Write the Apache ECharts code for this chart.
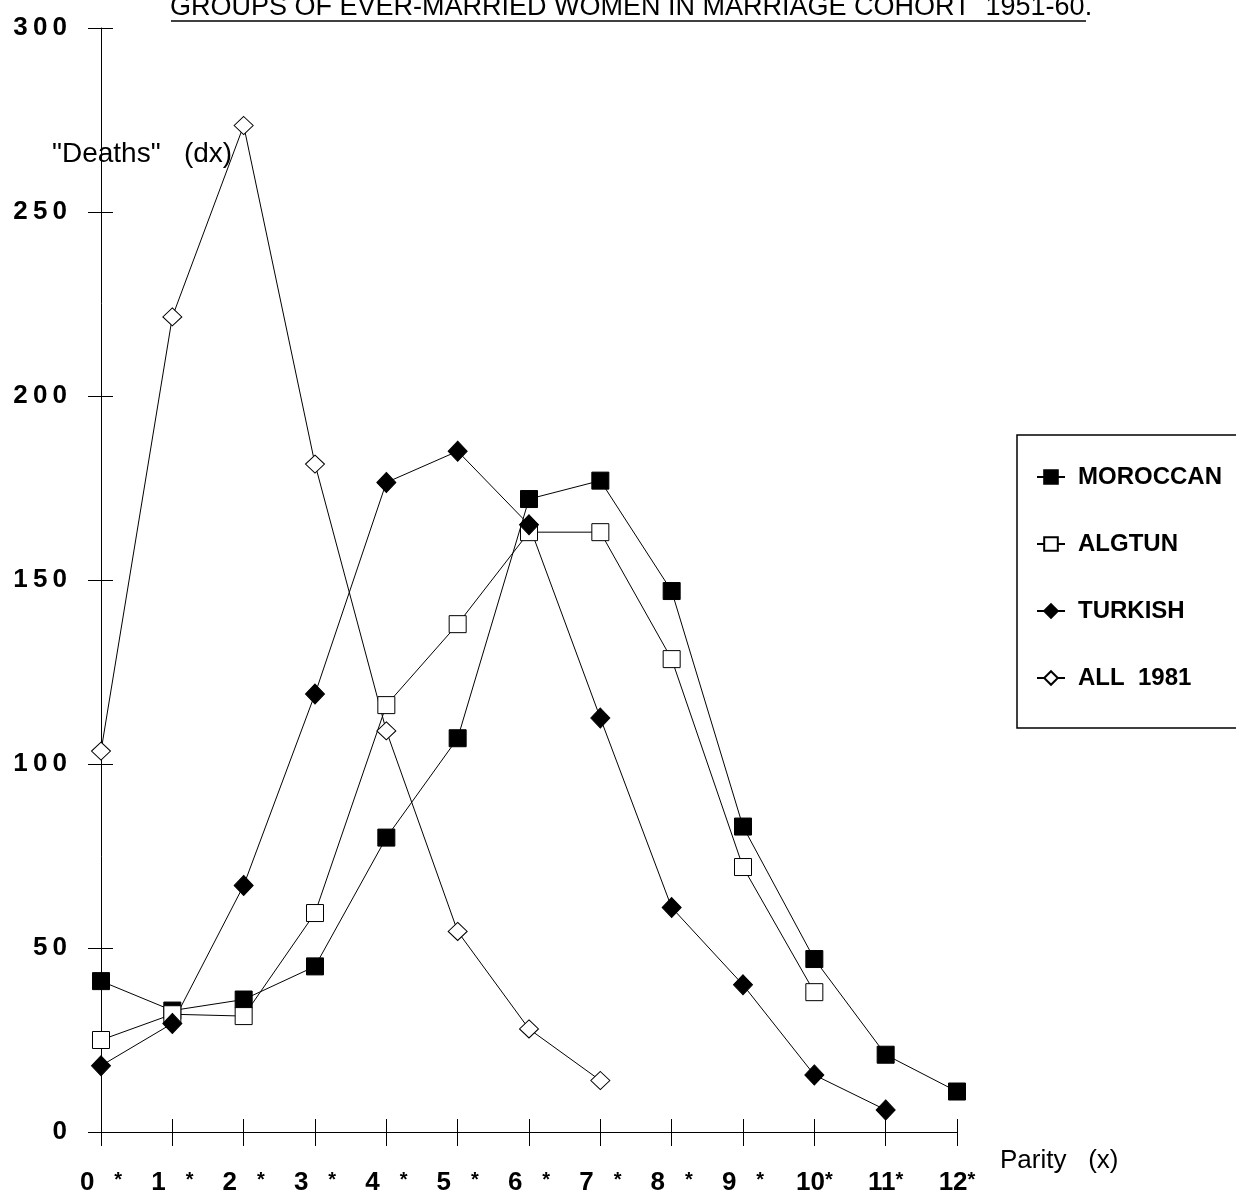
<!DOCTYPE html>
<html>
<head>
<meta charset="utf-8">
<script src="https://cdn.jsdelivr.net/npm/echarts@6/dist/echarts.min.js"></script>
<style>
html, body { margin: 0; padding: 0; background: #fff; }
#chart { width: 1236px; height: 1199px; }
</style>
</head>
<body>
<div id="chart"></div>
<script>
// parity x = 0..12
var parity = [0, 1, 2, 3, 4, 5, 6, 7, 8, 9, 10, 11, 12];
var xTickLabels = ['0', '1', '2', '3', '4', '5', '6', '7', '8', '9', '10', '11', '12'];
var yTickLabels = ['0', '50', '100', '150', '200', '250', '300'];

// "deaths" dx per group
var moroccan = [41, 33, 36, 45, 80, 107, 172, 177, 147, 83, 47, 21, 11];
var algtun   = [25, 32, 31.5, 59.5, 116, 138, 163, 163, 128.5, 72, 38];
var turkish  = [18, 29.5, 67, 119, 176.5, 185, 165, 112.5, 61, 40, 15.5, 6];
var all1981  = [103.5, 221.5, 273.5, 181.5, 109, 54.5, 28, 14];

var seriesNames = ['MOROCCAN', 'ALGTUN', 'TURKISH', 'ALL  1981'];

function pairs(vals) {
	var out = [];
	for (var i = 0; i < vals.length; i++) {
		out.push([parity[i], vals[i]]);
	}
	return out;
}

var chart = echarts.init(document.getElementById('chart'));
var font = 'Liberation Sans, Arial, sans-serif';

var lineStyle = { color: '#000', width: 1 };
var filled = { color: '#000', borderColor: '#000', borderWidth: 1 };
var hollow = { color: '#fff', borderColor: '#000', borderWidth: 1 };

function mkSeries(name, vals, symbol, size, style) {
	return {
		name: name,
		type: 'line',
		data: pairs(vals),
		symbol: symbol,
		symbolSize: size,
		showAllSymbol: true,
		lineStyle: lineStyle,
		itemStyle: style,
		emphasis: { disabled: true },
		animation: false
	};
}

var option = {
	backgroundColor: '#fff',
	animation: false,
	grid: { left: 101, top: 28, width: 856, height: 1104 },
	legend: {
		orient: 'vertical',
		left: 1017,
		top: 435,
		data: seriesNames,
		itemWidth: 28,
		itemHeight: 17,
		itemGap: 43,
		padding: [30, 60, 38, 19],
		borderColor: '#000',
		borderWidth: 1.5,
		textStyle: { fontFamily: font, fontSize: 24, fontWeight: 'bold', color: '#000', padding: [0, 0, 0, 8] }
	},
	xAxis: [{
		type: 'value',
		min: 0,
		max: 12,
		interval: 1,
		splitLine: { show: false },
		axisLine: { onZero: false, lineStyle: { color: '#000', width: 1 } },
		axisTick: { length: 14, lineStyle: { color: '#000' } },
		axisLabel: {
			margin: 38,
			color: '#000',
			formatter: function(v) {
				var s = xTickLabels[v];
				return '{d|' + s + '}' + (s.length > 1 ? '' : '{g|}') + '{a|*}';
			},
			rich: {
				d: { fontFamily: font, fontSize: 26, fontWeight: 'bold', color: '#000' },
				g: { width: 20 },
				a: { fontFamily: font, fontSize: 20, fontWeight: 'bold', color: '#000', verticalAlign: 'top', padding: [0, 0, 6, 0] }
			}
		}
	}, {
		type: 'value',
		min: 0,
		max: 12,
		interval: 1,
		position: 'bottom',
		splitLine: { show: false },
		axisLine: { show: false },
		axisTick: { inside: true, length: 13, lineStyle: { color: '#000' } },
		axisLabel: { show: false }
	}],
	yAxis: [{
		type: 'value',
		min: 0,
		max: 300,
		interval: 50,
		splitLine: { show: false },
		axisLine: { show: true, onZero: false, lineStyle: { color: '#000', width: 1 } },
		axisTick: { show: true, length: 13, lineStyle: { color: '#000' } },
		axisLabel: {
			margin: 34,
			fontFamily: font,
			fontSize: 26,
			fontWeight: 'bold',
			color: '#000',
			formatter: function(v) {
				return yTickLabels[v / 50].split('').join('\u2009');
			}
		}
	}, {
		type: 'value',
		min: 0,
		max: 300,
		interval: 50,
		position: 'left',
		splitLine: { show: false },
		axisLine: { show: false },
		axisTick: { show: true, inside: true, length: 12, lineStyle: { color: '#000' } },
		axisLabel: { show: false }
	}],
	graphic: [{
		type: 'text',
		left: 170,
		top: -6,
		style: {
			text: 'GROUPS OF EVER-MARRIED WOMEN IN MARRIAGE COHORT  1951-60.',
			font: '27px ' + font,
			fill: '#000'
		}
	}, {
		type: 'line',
		shape: { x1: 171, y1: 21, x2: 1086, y2: 21 },
		style: { stroke: '#000', lineWidth: 1.5 }
	}, {
		type: 'text',
		left: 52,
		top: 140,
		style: { text: '"Deaths"   (dx)', font: '28px ' + font, fill: '#000' }
	}, {
		type: 'text',
		left: 1000,
		top: 1148,
		style: { text: 'Parity   (x)', font: '26px ' + font, fill: '#000' }
	}],
	series: [
		mkSeries(seriesNames[0], moroccan, 'rect', 17, filled),
		mkSeries(seriesNames[1], algtun, 'rect', 17, hollow),
		mkSeries(seriesNames[2], turkish, 'diamond', [19, 20], filled),
		mkSeries(seriesNames[3], all1981, 'diamond', [19, 18], hollow)
	]
};

chart.setOption(option);
</script>
</body>
</html>
